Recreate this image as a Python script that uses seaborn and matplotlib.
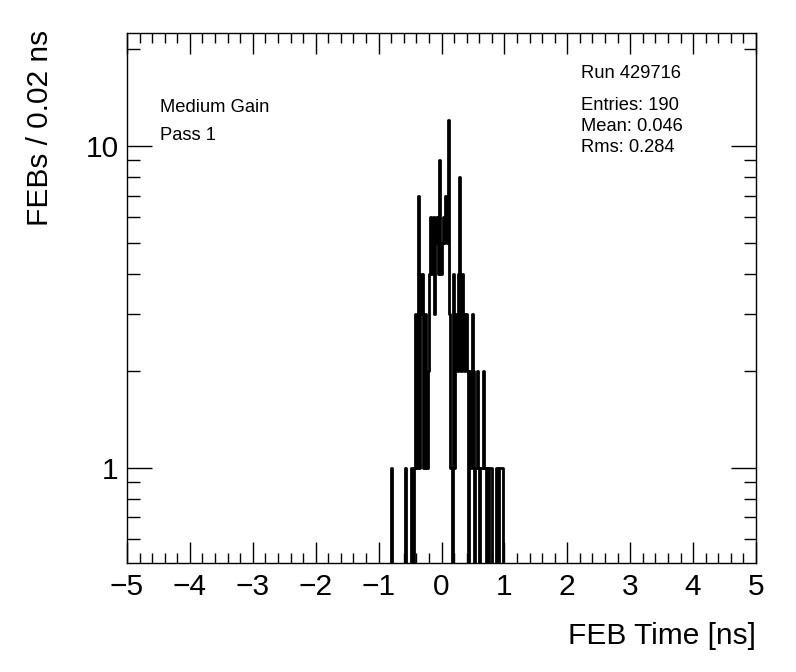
import numpy as np
import pandas as pd
import matplotlib
matplotlib.use("Agg")
import matplotlib.pyplot as plt
from matplotlib.ticker import LogLocator, FixedLocator, FixedFormatter, MultipleLocator, NullFormatter
import seaborn as sns

# ---- data ----
bin_width = 0.02
first_left_edge = -0.80
counts = [
    1, 0, 0, 0, 0, 0, 0, 0, 0, 0, 0,          # -0.80 .. -0.60
    1, 0, 0, 0, 0,                            # -0.58 .. -0.50
    1, 0, 1,                                  # -0.48 .. -0.44
    3, 1, 7, 1, 3, 4, 1, 1, 3, 1, 2,          # -0.42 .. -0.22
    4, 6, 4, 6, 3, 5, 6, 4, 9, 4, 5, 6, 5, 7, 5,  # -0.20 .. 0.08
    12, 3, 1, 0, 4, 1, 3, 2, 4, 8, 2, 4, 3, 2, 3, 2,  # 0.10 .. 0.40
    0, 2, 1, 3, 2, 0, 1, 2, 1, 0, 1, 1, 2, 1,  # 0.42 .. 0.68
    0, 1, 0, 1, 1, 0, 0, 0, 1, 1, 0, 1, 1, 1,  # 0.70 .. 0.96
]
x_range = (-5.0, 5.0)
run_label = "Run 429716"
gain_label = "Medium Gain"
pass_label = "Pass 1"
stats_lines = ["Entries: 190", "Mean: 0.046", "Rms: 0.284"]
x_title = "FEB Time [ns]"
y_title = "FEBs / 0.02 ns"

centers = first_left_edge + bin_width * (np.arange(len(counts)) + 0.5)
df = pd.DataFrame({"time": centers, "n": counts})
n_bins = int(round((x_range[1] - x_range[0]) / bin_width))
edges = [float(e) for e in np.linspace(x_range[0], x_range[1], n_bins + 1)]

sns.set_theme(style="white")
plt.rcParams["font.family"] = ["Liberation Sans", "DejaVu Sans"]
plt.rcParams["axes.unicode_minus"] = True
plt.rcParams["text.color"] = "black"

fig = plt.figure(figsize=(7.96, 6.72), dpi=100)
ax = fig.add_axes([127 / 796, 1 - 563 / 672, (756 - 127) / 796, (563 - 33) / 672])

sns.histplot(data=df, x="time", weights="n", bins=edges, element="step", fill=False,
             color="black", linewidth=2.0, ax=ax)

ax.set_yscale("log", nonpositive="clip")
ax.set_xlim(*x_range)
ax.set_ylim(0.505, 22.4)

# ticks
ax.xaxis.set_major_locator(MultipleLocator(1))
ax.xaxis.set_minor_locator(MultipleLocator(0.2))
ax.yaxis.set_major_locator(FixedLocator([1, 10]))
ax.yaxis.set_major_formatter(FixedFormatter(["1", "10"]))
ax.yaxis.set_minor_locator(LogLocator(base=10, subs=np.arange(2, 10)))
ax.yaxis.set_minor_formatter(NullFormatter())

ax.tick_params(axis="both", which="both", direction="in", top=True, right=True,
               bottom=True, left=True, colors="black", width=1.0)
ax.tick_params(axis="x", which="major", length=15, labelsize=21.5, pad=7)
ax.tick_params(axis="x", which="minor", length=7.5)
ax.tick_params(axis="y", which="major", length=18, labelsize=21.5, pad=6)
ax.tick_params(axis="y", which="minor", length=9)

for s in ax.spines.values():
    s.set_color("black")
    s.set_linewidth(1.0)

ax.set_xlabel("")
ax.set_ylabel("")
fig.text(756 / 796, 1 - 636 / 672, x_title, ha="right", va="center", fontsize=21.5)
fig.text(40 / 796, 1 - 30 / 672, y_title, ha="center", va="top", rotation=90, fontsize=21.5)

tfs = 13.2
fig.text(160 / 796, 1 - 107 / 672, gain_label, ha="left", va="center", fontsize=tfs)
fig.text(160 / 796, 1 - 135 / 672, pass_label, ha="left", va="center", fontsize=tfs)
fig.text(581 / 796, 1 - 74 / 672, run_label, ha="left", va="center", fontsize=tfs)
for i, line in enumerate(stats_lines):
    fig.text(581 / 796, 1 - (106 + 20.5 * i) / 672, line, ha="left", va="center", fontsize=tfs)

fig.savefig("out.png", dpi=100, facecolor="white")
